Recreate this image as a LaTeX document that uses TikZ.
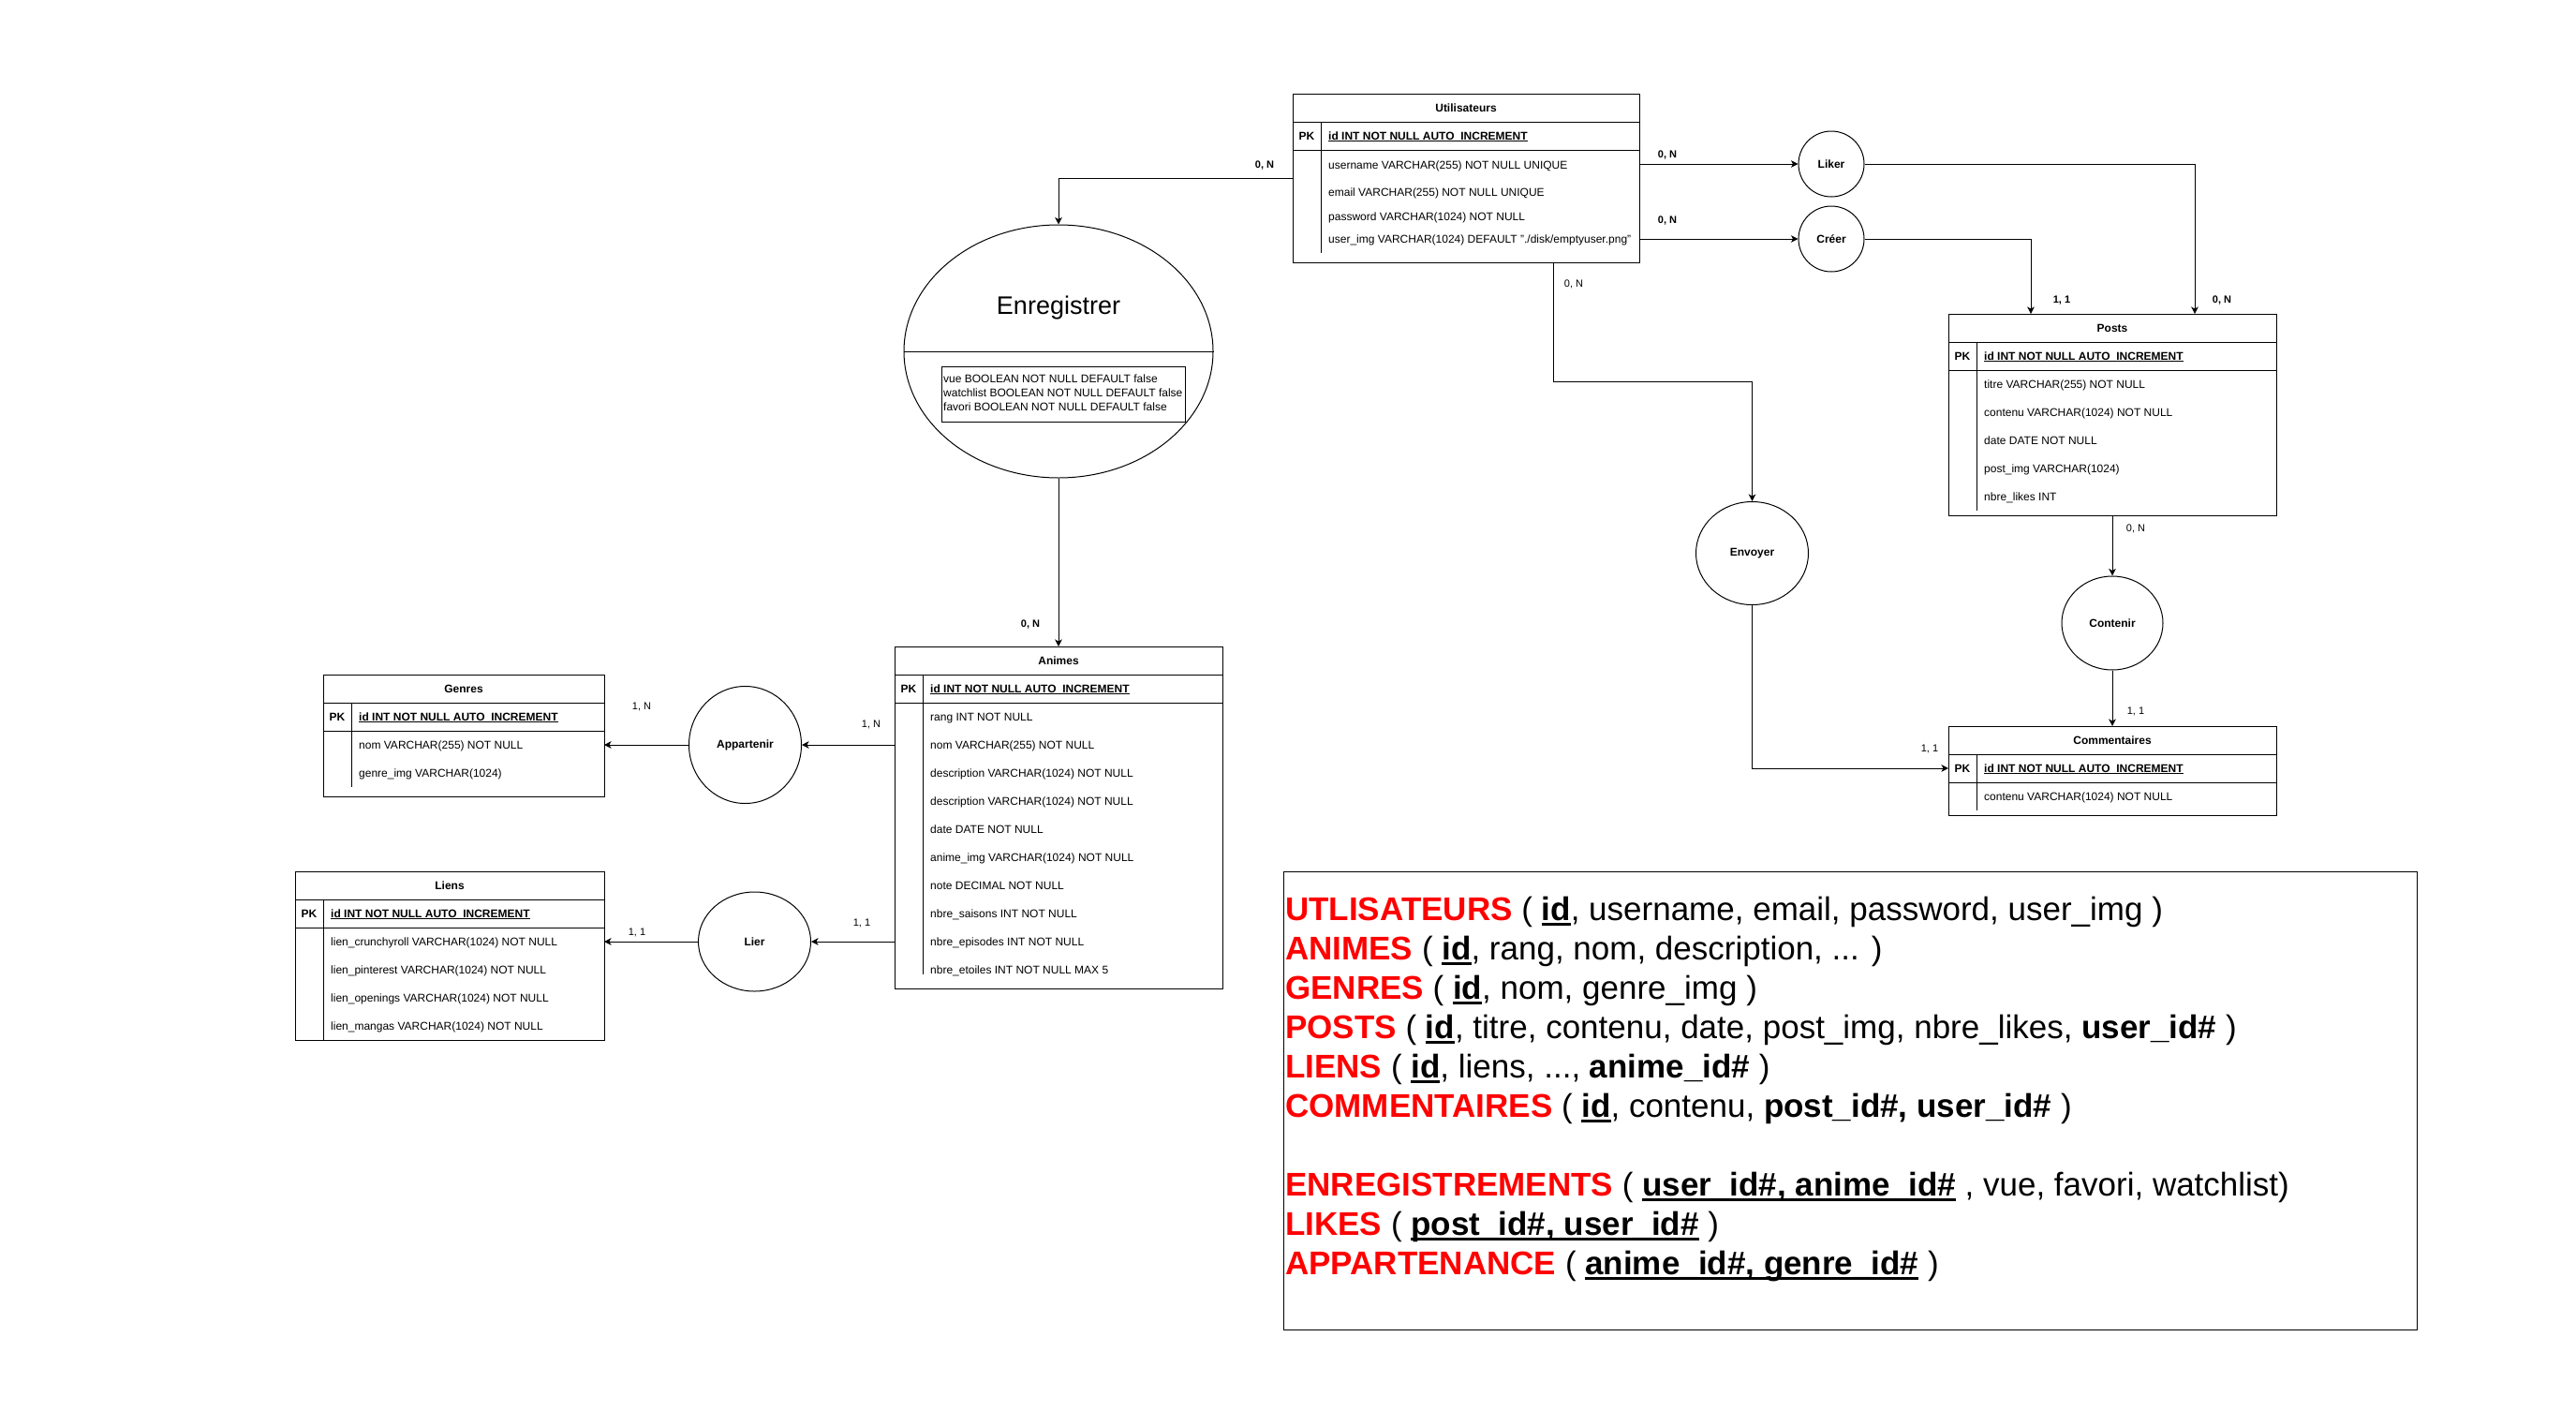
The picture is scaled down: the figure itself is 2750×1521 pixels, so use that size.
\documentclass[tikz,border=0pt]{standalone}
\usepackage{fontspec}
\setmainfont{Liberation Sans}
\usetikzlibrary{arrows.meta,shapes.geometric}
\definecolor{kwred}{RGB}{255,0,0}
% underline drawn as a rule under a box (scales with the font)
\newcommand{\uln}[1]{\setbox0\hbox{#1}\rlap{\rule[-0.16em]{\wd0}{0.085em}}\box0\relax}
\tikzset{
  tbl/.style={draw, line width=1pt, inner sep=0pt, outer sep=0pt, anchor=north west},
  sep/.style={line width=1pt},
  cell/.style={font=\fontsize{12}{14}\selectfont, inner sep=0pt, anchor=west, text height=8.6pt, text depth=0pt},
  pkcell/.style={cell, font=\fontsize{12}{14}\selectfont\bfseries},
  ttl/.style={font=\fontsize{12}{14}\selectfont\bfseries, inner sep=0pt, text height=8.6pt, text depth=0pt},
  rel/.style={draw, ellipse, line width=1pt, inner sep=0pt, font=\fontsize{12}{14}\selectfont\bfseries},
  link/.style={line width=1pt, -{Stealth[length=7.5pt,width=7.5pt,inset=2pt]}},
  card/.style={font=\fontsize{11}{13}\selectfont, inner sep=0pt, text height=7.9pt, text depth=0pt},
  cardb/.style={card, font=\fontsize{11}{13}\selectfont\bfseries},
  big/.style={font=\fontsize{35}{42}\selectfont, inner sep=0pt, anchor=base west},
}
\begin{document}
\begin{tikzpicture}[x=1pt,y=-1pt]
\fill[white] (0,0) rectangle (2750,1521);
\useasboundingbox (0,0) rectangle (2750,1521);

% ---------- Utilisateurs ----------
\node[tbl, minimum width=370pt, minimum height=180pt] (users) at (1380,100) {};
\draw[sep] (1380,130) -- (1750,130) (1380,160) -- (1750,160) (1410,130) -- (1410,270);
\node[ttl] (usersT) at (1565,115) {Utilisateurs};
\node[ttl] (usersPK) at (1395,145) {PK};
\node[pkcell] (usersId) at (1418,145) {\uln{id INT NOT NULL AUTO\_INCREMENT}};
\node[cell] (usersR1) at (1418,176) {username VARCHAR(255) NOT NULL UNIQUE};
\node[cell] (usersR2) at (1418,205) {email VARCHAR(255) NOT NULL UNIQUE};
\node[cell] (usersR3) at (1418,231) {password VARCHAR(1024) NOT NULL};
\node[cell] (usersR4) at (1418,255) {user\_img VARCHAR(1024) DEFAULT "./disk/emptyuser.png"};

% ---------- Enregistrer ----------
\node[draw, ellipse, line width=1pt, minimum width=330pt, minimum height=270pt, inner sep=0pt] (enr) at (1130,375) {};
\draw[sep] (enr.west) -- (enr.east);
\node[font=\fontsize{27}{32}\selectfont, inner sep=0pt] (enrT) at (1130,329) {Enregistrer};
\node[tbl, minimum width=260pt, minimum height=59pt] (enrBox) at (1005,391) {};
\node[anchor=north west, align=left, font=\fontsize{12}{15}\selectfont, inner sep=0pt] (enrAttr) at (1007,400)
  {vue BOOLEAN NOT NULL DEFAULT false\\watchlist BOOLEAN NOT NULL DEFAULT false\\favori BOOLEAN NOT NULL DEFAULT false};

% ---------- Animes ----------
\node[tbl, minimum width=350pt, minimum height=365pt] (animes) at (955,690) {};
\draw[sep] (955,720) -- (1305,720) (955,750) -- (1305,750) (985,720) -- (985,1040);
\node[ttl] (animesT) at (1130,705) {Animes};
\node[ttl] (animesPK) at (970,735) {PK};
\node[pkcell] (animesId) at (993,735) {\uln{id INT NOT NULL AUTO\_INCREMENT}};
\foreach \t [count=\i from 0] in {rang INT NOT NULL, nom VARCHAR(255) NOT NULL,
    description VARCHAR(1024) NOT NULL, description VARCHAR(1024) NOT NULL,
    date DATE NOT NULL, anime\_img VARCHAR(1024) NOT NULL, note DECIMAL NOT NULL,
    nbre\_saisons INT NOT NULL, nbre\_episodes INT NOT NULL, nbre\_etoiles INT NOT NULL MAX 5}
  \node[cell] (animesR\i) at (993,765+30*\i) {\t};

% ---------- Genres ----------
\node[tbl, minimum width=300pt, minimum height=130pt] (genres) at (345,720) {};
\draw[sep] (345,750) -- (645,750) (345,780) -- (645,780) (375,750) -- (375,840);
\node[ttl] (genresT) at (495,735) {Genres};
\node[ttl] (genresPK) at (360,765) {PK};
\node[pkcell] (genresId) at (383,765) {\uln{id INT NOT NULL AUTO\_INCREMENT}};
\node[cell] (genresR1) at (383,795) {nom VARCHAR(255) NOT NULL};
\node[cell] (genresR2) at (383,825) {genre\_img VARCHAR(1024)};

% ---------- Liens ----------
\node[tbl, minimum width=330pt, minimum height=180pt] (liens) at (315,930) {};
\draw[sep] (315,960) -- (645,960) (315,990) -- (645,990) (345,960) -- (345,1110);
\node[ttl] (liensT) at (480,945) {Liens};
\node[ttl] (liensPK) at (330,975) {PK};
\node[pkcell] (liensId) at (353,975) {\uln{id INT NOT NULL AUTO\_INCREMENT}};
\foreach \t [count=\i from 0] in {lien\_crunchyroll VARCHAR(1024) NOT NULL,
    lien\_pinterest VARCHAR(1024) NOT NULL, lien\_openings VARCHAR(1024) NOT NULL,
    lien\_mangas VARCHAR(1024) NOT NULL}
  \node[cell] (liensR\i) at (353,1005+30*\i) {\t};

% ---------- Posts ----------
\node[tbl, minimum width=350pt, minimum height=215pt] (posts) at (2080,335) {};
\draw[sep] (2080,365) -- (2430,365) (2080,395) -- (2430,395) (2110,365) -- (2110,545);
\node[ttl] (postsT) at (2255,350) {Posts};
\node[ttl] (postsPK) at (2095,380) {PK};
\node[pkcell] (postsId) at (2118,380) {\uln{id INT NOT NULL AUTO\_INCREMENT}};
\foreach \t [count=\i from 0] in {titre VARCHAR(255) NOT NULL, contenu VARCHAR(1024) NOT NULL,
    date DATE NOT NULL, post\_img VARCHAR(1024), nbre\_likes INT}
  \node[cell] (postsR\i) at (2118,410+30*\i) {\t};

% ---------- Commentaires ----------
\node[tbl, minimum width=350pt, minimum height=95pt] (comm) at (2080,775) {};
\draw[sep] (2080,805) -- (2430,805) (2080,835) -- (2430,835) (2110,805) -- (2110,865);
\node[ttl] (commT) at (2255,790) {Commentaires};
\node[ttl] (commPK) at (2095,820) {PK};
\node[pkcell] (commId) at (2118,820) {\uln{id INT NOT NULL AUTO\_INCREMENT}};
\node[cell] (commR1) at (2118,850) {contenu VARCHAR(1024) NOT NULL};

% ---------- Associations ----------
\node[rel, minimum width=120pt, minimum height=125pt] (app) at (795.5,795) {Appartenir};
\node[rel, minimum width=120pt, minimum height=106pt] (lier) at (805.5,1005) {Lier};
\node[rel, minimum width=70pt, minimum height=70pt] (liker) at (1955,175) {Liker};
\node[rel, minimum width=70pt, minimum height=70pt] (creer) at (1955,255) {Créer};
\node[rel, minimum width=120pt, minimum height=110pt] (env) at (1870.5,590.5) {Envoyer};
\node[rel, minimum width=108pt, minimum height=100pt] (cont) at (2255,665) {Contenir};

% ---------- Connection points ----------
\coordinate (usersOut) at (1658,280);
\coordinate (usersBend) at (1658,407);
\coordinate (postsLikeIn) at (2343,335);
\coordinate (postsCreerIn) at (2168,335);

% ---------- Connectors ----------
\draw[link] (users.west) -| (enr.north);
\draw[link] (enr.south) -- (animes.north);
\draw[link] (animes.west |- app) -- (app.east);
\draw[link] (app.west) -- (genres.east |- app);
\draw[link] (animes.west |- lier) -- (lier.east);
\draw[link] (lier.west) -- (liens.east |- lier);
\draw[link] (users.east |- liker) -- (liker.west);
\draw[link] (users.east |- creer) -- (creer.west);
\draw[link] (liker.east) -| (postsLikeIn);
\draw[link] (creer.east) -| (postsCreerIn);
\draw[link] (usersOut) -- (usersBend) -| (env.north);
\draw[link] (env.south) |- (comm.west |- commPK);
\draw[link] (posts.south) -- (cont.north);
\draw[link] (cont.south) -- (comm.north);

% ---------- Cardinalities ----------
\node[cardb] (cUE) at (1350,176) {0, N};
\node[cardb] (cEA) at (1100,666) {0, N};
\node[card] (cAA) at (930,773) {1, N};
\node[card] (cAG) at (685,754) {1, N};
\node[card] (cAL) at (920,985) {1, 1};
\node[card] (cLL) at (680,995) {1, 1};
\node[cardb] (cUL) at (1780,165) {0, N};
\node[cardb] (cUC) at (1780,235) {0, N};
\node[cardb] (cCP) at (2201,320) {1, 1};
\node[cardb] (cLP) at (2372,320) {0, N};
\node[card] (cUEn) at (1680,303) {0, N};
\node[card] (cPC) at (2280,564) {0, N};
\node[card] (cCC) at (2280,759) {1, 1};
\node[card] (cEC) at (2060,799) {1, 1};

% ---------- Relational schema ----------
\node[tbl, minimum width=1210pt, minimum height=489pt] (schema) at (1370,930) {};
\node[big] (s1) at (1372,982) {\textcolor{kwred}{\textbf{UTLISATEURS}} ( \uln{\textbf{id}}, username, email, password, user\_img )};
\node[big] (s2) at (1372,1024) {\textcolor{kwred}{\textbf{ANIMES}} ( \uln{\textbf{id}}, rang, nom, description, ... )};
\node[big] (s3) at (1372,1066) {\textcolor{kwred}{\textbf{GENRES}} ( \uln{\textbf{id}}, nom, genre\_img )};
\node[big] (s4) at (1372,1108) {\textcolor{kwred}{\textbf{POSTS}} ( \uln{\textbf{id}}, titre, contenu, date, post\_img, nbre\_likes, \textbf{user\_id\#} )};
\node[big] (s5) at (1372,1150) {\textcolor{kwred}{\textbf{LIENS}} ( \uln{\textbf{id}}, liens, ..., \textbf{anime\_id\#} )};
\node[big] (s6) at (1372,1192) {\textcolor{kwred}{\textbf{COMMENTAIRES}} ( \uln{\textbf{id}}, contenu, \textbf{post\_id\#, user\_id\#} )};
\node[big] (s7) at (1372,1276) {\textcolor{kwred}{\textbf{ENREGISTREMENTS}} ( \uln{\textbf{user\_id\#, anime\_id\#}} , vue, favori, watchlist)};
\node[big] (s8) at (1372,1318) {\textcolor{kwred}{\textbf{LIKES}} ( \uln{\textbf{post\_id\#, user\_id\#}} )};
\node[big] (s9) at (1372,1360) {\textcolor{kwred}{\textbf{APPARTENANCE}} ( \uln{\textbf{anime\_id\#, genre\_id\#}} )};
\end{tikzpicture}
\end{document}
